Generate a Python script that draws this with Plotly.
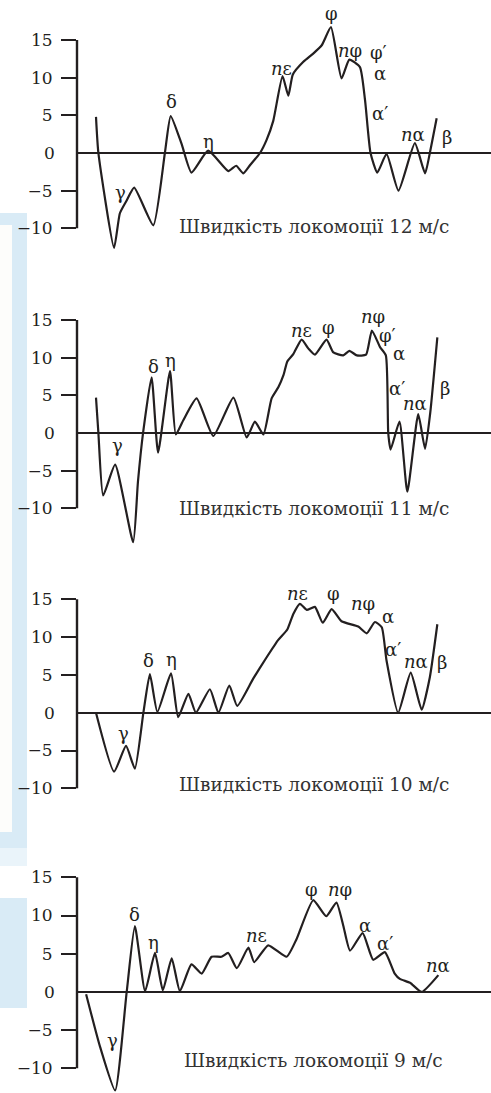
import plotly.graph_objects as go

# Angular velocity traces (deg-like units) over one locomotion cycle, four running speeds.
# x: phase of the cycle (arbitrary units, 0..100); y: signal value.

t_12 = [0, 0.7, 5.3, 7.0, 9.0, 11.2, 16.8, 20.2, 21.9, 25.1, 28.0, 32.9, 38.8, 41.1, 43.2,
        45.2, 48.1, 50.0, 52.0, 54.7, 56.4, 57.7, 60.8, 63.7, 66.2, 68.9, 72.0, 74.3, 77.4,
        78.9, 80.5, 82.5, 85.2, 88.7, 93.5, 96.5, 97.9, 99.9]
v_12 = [4.8, 0.0, -12.6, -8.0, -6.3, -4.6, -9.6, 0.0, 4.9, 1.2, -2.6, 0.3, -2.4, -1.7, -2.7,
        -1.6, 0.0, 1.7, 4.3, 10.2, 7.6, 10.4, 12.1, 13.2, 14.3, 16.7, 9.9, 12.4, 11.4,
        7.0, 0.0, -2.6, -0.1, -5.0, 1.3, -2.7, 0.0, 4.6]

t_11 = [0, 0.7, 2.1, 5.6, 10.9, 12.3, 13.8, 16.3, 18.2, 21.7, 23.4, 25.6, 29.5, 34.4, 40.3,
        44.2, 46.6, 49.1, 51.5, 53.5, 55.0, 56.1, 57.9, 60.3, 62.3, 64.2, 67.6, 69.6, 72.5,
        74.3, 76.5, 79.2, 80.9, 83.3, 85.0, 85.7, 86.4, 89.0, 91.3, 94.5, 96.5, 98.0, 100.1]
v_11 = [4.7, 0.0, -8.3, -4.2, -14.5, -6.5, 0.0, 7.4, -2.6, 8.2, -0.2, 1.7, 4.6, -0.4, 4.7,
        -0.6, 1.5, -0.2, 4.6, 6.1, 7.7, 9.5, 10.5, 12.4, 11.2, 10.4, 12.4, 10.7, 10.3,
        10.9, 10.3, 10.4, 13.6, 11.4, 10.3, 0.0, -2.2, 1.5, -7.8, 2.5, -2.1, 2.6, 12.7]

t_10 = [0, 5.3, 8.8, 11.4, 13.9, 15.8, 18.0, 22.0, 24.1, 27.1, 29.3, 33.4, 35.9, 39.1, 41.4,
        46.1, 50.0, 53.4, 56.1, 57.9, 59.8, 61.8, 64.2, 66.5, 69.1, 72.0, 76.9, 79.4, 81.8,
        83.8, 85.2, 88.6, 92.3, 95.5, 97.9, 100.1]
v_10 = [0.0, -7.8, -4.4, -7.4, 0.0, 5.1, 0.1, 5.2, -0.6, 2.5, 0.0, 3.1, 0.0, 3.6, 0.9,
        4.5, 7.3, 9.6, 11.0, 13.1, 14.4, 13.6, 14.0, 11.9, 13.7, 12.1, 11.4, 10.5, 12.0,
        11.3, 6.9, 0.0, 5.3, 0.4, 4.7, 11.7]

t_9 = [-2.9, 1.2, 5.6, 9.0, 11.4, 14.4, 17.3, 19.6, 22.2, 24.6, 28.0, 31.0, 33.9, 36.8, 38.8,
       41.3, 44.7, 46.4, 50.5, 55.9, 58.8, 63.7, 67.5, 70.5, 72.5, 74.5, 78.2, 81.3, 84.7,
       87.6, 89.1, 92.1, 95.5, 100.4]
v_9 = [-0.3, -7.2, -12.9, 0.0, 8.6, 0.1, 5.1, 0.2, 4.4, 0.1, 3.6, 2.4, 4.6, 4.6, 5.1,
       3.1, 5.8, 3.9, 6.1, 4.6, 6.9, 12.0, 9.9, 11.7, 8.7, 5.4, 7.7, 4.2, 5.2,
       2.4, 1.7, 1.2, 0.0, 2.2]

# Phase labels per panel: (text, x, y)
labels_12 = [("γ", 7.2, -5.3), ("δ", 22.2, 6.8), ("η", 32.9, 1.5), ("<i>n</i>ε", 54.4, 11.2),
             ("φ", 69.1, 18.5), ("<i>n</i>φ", 74.4, 13.6), ("φ′", 82.8, 13.3), ("α", 83.3, 10.6),
             ("α′", 83.3, 5.2), ("<i>n</i>α", 93.1, 2.5), ("β", 102.8, 2.1)]
labels_11 = [("γ", 6.3, -1.6), ("δ", 16.8, 8.85), ("η", 21.7, 9.6), ("<i>n</i>ε", 60.3, 13.6),
             ("φ", 68.1, 14.0), ("<i>n</i>φ", 81.3, 15.5), ("φ′", 85.4, 13.0), ("α", 88.8, 10.5),
             ("α′", 88.2, 5.9), ("<i>n</i>α", 93.5, 3.9), ("β", 102.3, 5.9)]
labels_10 = [("γ", 8.0, -2.7), ("δ", 15.3, 6.9), ("η", 22.2, 7.1), ("<i>n</i>ε", 59.1, 15.8),
             ("φ", 69.6, 15.8), ("<i>n</i>φ", 78.4, 14.5), ("α", 85.7, 12.7),
             ("α′", 87.0, 8.4), ("<i>n</i>α", 93.8, 6.8), ("β", 101.4, 6.7)]
labels_9 = [("γ", 4.9, -6.3), ("δ", 11.4, 10.1), ("η", 17.0, 6.4), ("<i>n</i>ε", 47.1, 7.4),
            ("φ", 63.2, 13.4), ("<i>n</i>φ", 71.6, 13.4), ("α", 78.9, 8.7),
            ("α′", 84.8, 6.3), ("<i>n</i>α", 100.4, 3.4)]

captions = ["Швидкість локомоції 12 м/с", "Швидкість локомоції 11 м/с",
            "Швидкість локомоції 10 м/с", "Швидкість локомоції 9 м/с"]
caption_pos = [(23.8, -9.8), (23.8, -10.0), (23.8, -9.5), (25.1, -9.0)]

tick_vals = [-10, -5, 5, 10, 15]
tick_text = ["−10", "−5", "5", "10", "15"]

W, H = 491, 1093
FONT = "DejaVu Serif"
FS_TICK, FS_LAB, FS_CAP = 17, 18, 18.5
INK = "#231f20"

# Pixel placement of each panel: (y of tick 15, y of tick -10, range low, range high)
panel_px = [(40.0, 228.3, -15.5, 20.0), (320.0, 508.3, -15.5, 17.5),
            (599.3, 788.3, -15.5, 17.5), (877.3, 1068.3, -13.2, 16.5)]
x_left_px, t0_px, t_scale = 77.0, 96.0, 3.41
x_range = [(x_left_px - t0_px) / t_scale, (W - t0_px) / t_scale]

series = [(t_12, v_12, labels_12), (t_11, v_11, labels_11),
          (t_10, v_10, labels_10), (t_9, v_9, labels_9)]

fig = go.Figure()
layout = dict(width=W, height=H, margin=dict(l=0, r=0, t=0, b=0),
              paper_bgcolor="white", plot_bgcolor="rgba(0,0,0,0)",
              showlegend=False, font=dict(family=FONT, color=INK, size=FS_LAB))
annotations, shapes = [], []

# light-blue page frame along the left edge
blue = "#d9ebf6"
for (x0, y0, x1, y1, c) in [(0, 213, 27, 850, blue), (0, 225, 12, 832, "#fdfdfb"),
                            (0, 848, 27, 866, "#eaf4fa"), (0, 898, 27, 1008, blue)]:
    shapes.append(dict(type="rect", xref="paper", yref="paper", layer="below",
                       x0=x0 / W, x1=x1 / W, y0=1 - y1 / H, y1=1 - y0 / H,
                       fillcolor=c, line=dict(width=0)))

for i, ((tx, vy, labs), (p15, pm10, lo, hi)) in enumerate(zip(series, panel_px)):
    k = "" if i == 0 else str(i + 1)
    s = (pm10 - p15) / 25.0
    top_px = p15 - (hi - 15) * s
    bot_px = pm10 + (-10 - lo) * s
    layout["xaxis" + k] = dict(domain=[x_left_px / W, 1.0], range=x_range, visible=False,
                               anchor="y" + k, fixedrange=True)
    layout["yaxis" + k] = dict(domain=[max(0, 1 - bot_px / H), 1 - top_px / H],
                               range=[lo, hi], anchor="x" + k,
                               showgrid=False, showline=False,
                               zeroline=True, zerolinecolor=INK, zerolinewidth=2,
                               tickvals=tick_vals, ticktext=tick_text,
                               ticks="outside", ticklen=15, tickwidth=2.2, tickcolor=INK,
                               ticklabelstandoff=5,
                               tickfont=dict(family=FONT, size=FS_TICK, color=INK))
    fig.add_trace(go.Scatter(x=tx, y=vy, mode="lines", xaxis="x" + k, yaxis="y" + k,
                             line=dict(color=INK, width=2.2, shape="spline", smoothing=0.5),
                             hoverinfo="skip"))
    # vertical spine from -10 to 15
    shapes.append(dict(type="line", xref=f"x{k} domain", yref="y" + k,
                       x0=0, x1=0, y0=-10, y1=15, line=dict(color=INK, width=2.4)))
    # "0" label (no tick mark at zero)
    annotations.append(dict(text="0", xref=f"x{k} domain", yref="y" + k, x=0, y=0,
                            xanchor="right", yanchor="middle", xshift=-20, showarrow=False,
                            font=dict(family=FONT, size=FS_TICK, color=INK)))
    for (txt, lx, ly) in labs:
        annotations.append(dict(text=txt, xref="x" + k, yref="y" + k, x=lx, y=ly,
                                xanchor="center", yanchor="middle", showarrow=False,
                                font=dict(family=FONT, size=FS_LAB, color=INK)))
    cx, cy = caption_pos[i]
    annotations.append(dict(text=captions[i], xref="x" + k, yref="y" + k, x=cx, y=cy,
                            xanchor="left", yanchor="middle", showarrow=False,
                            font=dict(family=FONT, size=FS_CAP, color="#333333")))

layout["annotations"] = annotations
layout["shapes"] = shapes
fig.update_layout(**layout)
fig.write_html("out.html")
